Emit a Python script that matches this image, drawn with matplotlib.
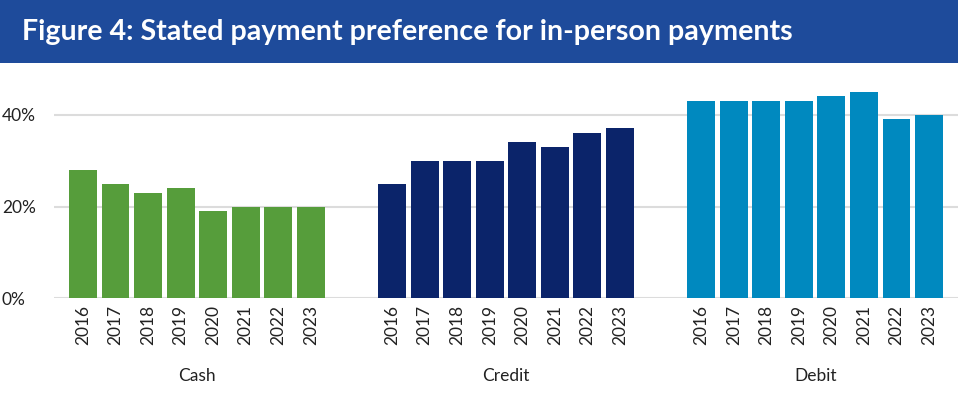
import matplotlib.pyplot as plt
from matplotlib.patches import Rectangle

plt.rcParams['font.family'] = ['Lato', 'DejaVu Sans']

years = ['2016', '2017', '2018', '2019', '2020', '2021', '2022', '2023']
groups = ['Cash', 'Credit', 'Debit']
cash = [28, 25, 23, 24, 19, 20, 20, 20]
credit = [25, 30, 30, 30, 34, 33, 36, 37]
debit = [43, 43, 43, 43, 44, 45, 39, 40]
colors = ['#569d3b', '#0b246a', '#0089bf']

fig = plt.figure(figsize=(9.58, 3.96), dpi=100)

# title banner
fig.patches.append(Rectangle((0, 1 - 63 / 396), 1, 63 / 396, transform=fig.transFigure,
                             facecolor='#1e4b9b', edgecolor='none', zorder=0))
fig.text(22 / 958, 1 - 32 / 396, 'Figure 4: Stated payment preference for in-person payments',
         color='white', fontsize=20.6, fontweight='bold', va='center', ha='left')

ax = fig.add_axes([54 / 958, 0.2467, 1 - 54 / 958, 0.7914 - 0.2467])

step = 9.5
ticks = []
labels = []
for g, vals in enumerate([cash, credit, debit]):
    xs = [g * step + i for i in range(len(years))]
    ax.bar(xs, vals, width=0.86, color=colors[g], zorder=3)
    ticks += xs
    labels += years
    ax.annotate(groups[g], xy=(g * step + 3.5, 20 / 396), xycoords=('data', 'figure fraction'),
                ha='center', va='center', fontsize=12.5, color='#222222')

ax.set_xlim(-0.89, 2 * step + 7 + 0.89)
ax.set_ylim(0, 47)
ax.set_yticks([0, 20, 40])
ax.set_yticklabels(['0%', '20%', '40%'])
ax.set_xticks(ticks)
ax.set_xticklabels(labels, rotation=90, fontsize=12.5, color='#222222')
ax.tick_params(axis='x', length=0, pad=5)
ax.tick_params(axis='y', length=0, pad=37.5, labelsize=12.5, labelcolor='#222222')
for lbl in ax.get_yticklabels():
    lbl.set_ha('left')

ax.grid(axis='y', color='#dcdcdc', linewidth=1.5, zorder=0)
ax.set_axisbelow(True)
for s in ax.spines.values():
    s.set_visible(False)

fig.savefig('out.png', dpi=100)
